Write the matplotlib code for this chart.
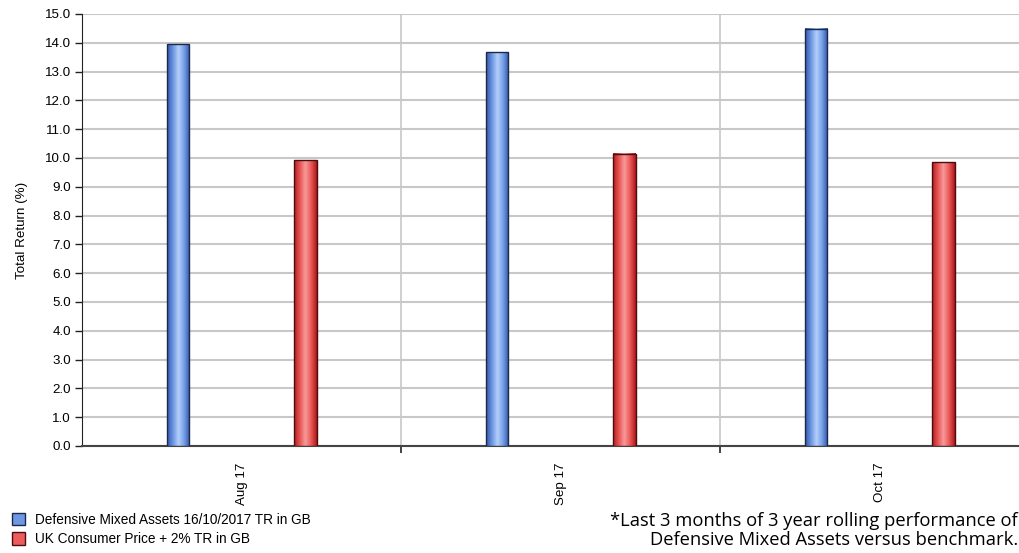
import numpy as np
import matplotlib
matplotlib.use("Agg")
import matplotlib.pyplot as plt
from matplotlib.colors import LinearSegmentedColormap
import matplotlib.patches as mpatches

months = ["Aug 17", "Sep 17", "Oct 17"]
fund = [13.95, 13.68, 14.48]
benchmark = [9.93, 10.14, 9.86]
fund_name = "Defensive Mixed Assets 16/10/2017 TR in GB"
bench_name = "UK Consumer Price + 2% TR in GB"

plt.rcParams["font.family"] = ["Liberation Sans", "DejaVu Sans"]

fig = plt.figure(figsize=(10.2, 5.53), dpi=100)
ax = fig.add_axes([0.0804, 0.1935, 0.9386, 0.7812])

blue_cm = LinearSegmentedColormap.from_list(
    "blue_cyl", ["#3458ac", "#6a93e0", "#b4d0fa", "#769fe8", "#3256a8"])
red_cm = LinearSegmentedColormap.from_list(
    "red_cyl", ["#b81c1c", "#e45454", "#fa9a9a", "#e85858", "#b01818"])
grad = np.linspace(0, 1, 64).reshape(1, -1)

x = np.arange(len(months))
w = 0.07


def cylinder_bars(xpos, vals, cmap, edge):
    bars = ax.bar(xpos, vals, w, color="none", edgecolor=edge, linewidth=1.0, zorder=4)
    for b in bars:
        ax.imshow(grad, cmap=cmap, aspect="auto", zorder=3,
                  extent=[b.get_x(), b.get_x() + b.get_width(), 0, b.get_height()])
    return bars


cylinder_bars(x - 0.2, fund, blue_cm, "#1c2a48")
cylinder_bars(x + 0.2, benchmark, red_cm, "#4a0e0e")

ax.set_xlim(-0.5, len(months) - 0.5)
ax.set_ylim(0, 15)
yt = np.arange(0, 15.1, 1.0)
ax.set_yticks(yt)
ax.set_yticklabels([f"{v:.1f}" for v in yt], fontsize=9.6)
ax.yaxis.grid(True, color="#c8c8c8", linewidth=1.5, zorder=0)

# month labels at group centres, tick marks on group boundaries
ax.set_xticks(x)
ax.set_xticklabels(months, rotation=90, fontsize=9.6)
ax.tick_params(axis="x", length=0, pad=12)
ax.set_xticks(np.arange(0.5, len(months) - 0.5, 1.0), minor=True)
ax.tick_params(axis="x", which="minor", length=5, width=1.2, color="#222222")
for b in np.arange(0.5, len(months) - 0.5, 1.0):
    ax.axvline(b, color="#c8c8c8", linewidth=1.2, zorder=0)
ax.tick_params(axis="y", length=5, width=1.0, color="#222222", pad=3)

for s in ["top", "right"]:
    ax.spines[s].set_visible(False)
ax.spines["left"].set_color("#222222")
ax.spines["bottom"].set_color("#444444")
ax.spines["bottom"].set_linewidth(1.5)

ax.set_ylabel("Total Return (%)", fontsize=9.6, labelpad=12)

handles = [mpatches.Patch(facecolor="#6f98e4", edgecolor="#1c2a48", label=fund_name),
           mpatches.Patch(facecolor="#ec5c5c", edgecolor="#4a0e0e", label=bench_name)]
fig.legend(handles=handles, loc="lower left", bbox_to_anchor=(0.002, -0.005),
           frameon=False, fontsize=9.8, handlelength=1.0, handleheight=1.0,
           handletextpad=0.7, labelspacing=0.4, borderaxespad=0.3)

fig.text(0.998, 0.008,
         "*Last 3 months of 3 year rolling performance of\nDefensive Mixed Assets versus benchmark.",
         ha="right", va="bottom", fontsize=13.2, family="Open Sans", linespacing=1.05)

fig.savefig("out.png", dpi=100)
